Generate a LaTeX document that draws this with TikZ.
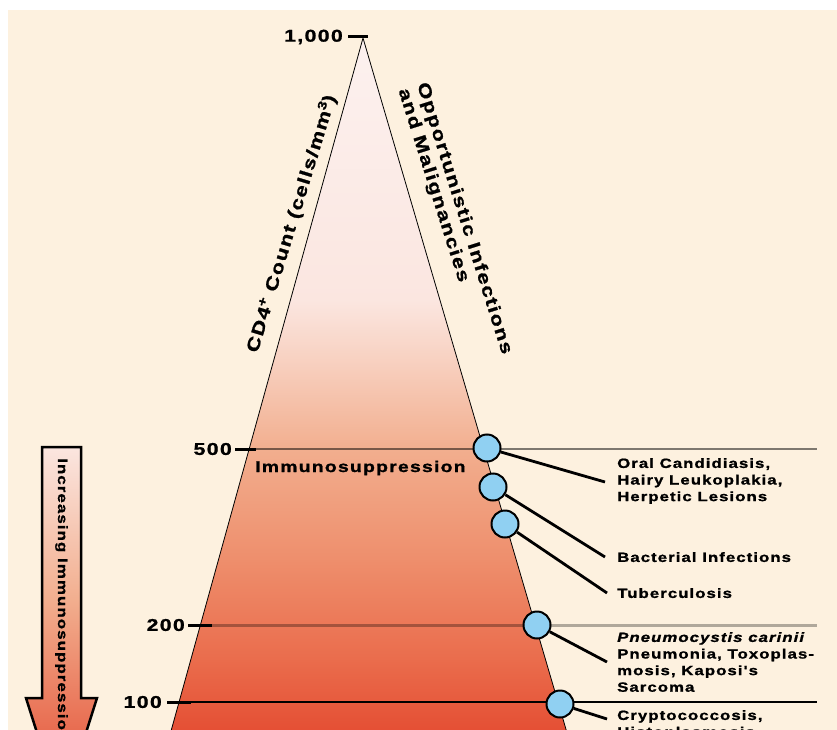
\documentclass[tikz,border=0pt]{standalone}
\usepackage{fontspec}
\newfontfamily\lbl[FakeStretch=1.25,LetterSpace=8,FakeBold=1.2]{Liberation Sans}
\definecolor{cream}{HTML}{FDF1DF}
\definecolor{g0}{HTML}{FCF1EF}
\definecolor{g1}{HTML}{FBE6E0}
\definecolor{g2}{HTML}{F7CDBB}
\definecolor{g3}{HTML}{F2AE8E}
\definecolor{g4}{HTML}{EE8E6C}
\definecolor{g5}{HTML}{EA6C4C}
\definecolor{g6}{HTML}{E2432A}
\definecolor{dotblue}{HTML}{90D0F2}
\tikzset{
  lab/.style={font=\lbl\bfseries\fontsize{13.4}{16.6}\selectfont, inner sep=0pt, align=left, anchor=north west},
  num/.style={font=\lbl\bfseries\fontsize{17}{19}\selectfont, inner sep=0pt, anchor=east},
  axislab/.style={font=\lbl\bfseries\fontsize{17.5}{19.5}\selectfont, inner sep=0pt, align=left},
  tickmark/.style={line width=3pt, black},
  dot/.style={circle, minimum size=27pt, inner sep=0pt, fill=dotblue, draw=black, line width=2pt},
  leader/.style={line width=2.8pt, black},
}
\begin{document}
\begin{tikzpicture}[x=1pt,y=-1pt]
\useasboundingbox (0,0) rectangle (837,730);
\clip (0,0) rectangle (837,730);
\fill[white] (0,0) rectangle (837,730);
\fill[cream] (8,10) rectangle (837,730);

% ---------- triangle ----------
\coordinate (A) at (363,38);
\coordinate (BL) at (163,760);
\coordinate (BR) at (575,760);
\begin{scope}
  \clip (A) -- (BR) -- (BL) -- cycle;
  \shade[top color=g0, bottom color=g1] (150,37) rectangle (600,301);
  \shade[top color=g1, bottom color=g2] (150,300) rectangle (600,371);
  \shade[top color=g2, bottom color=g3] (150,370) rectangle (600,451);
  \shade[top color=g3, bottom color=g4] (150,450) rectangle (600,561);
  \shade[top color=g4, bottom color=g5] (150,560) rectangle (600,661);
  \shade[top color=g5, bottom color=g6] (150,660) rectangle (600,761);
\end{scope}
\draw[line width=0.8pt] (BL) -- (A) -- (BR);

% ---------- level lines ----------
\coordinate (l5a) at (235,449);  \coordinate (l5b) at (817,449);
\coordinate (l2a) at (188,625);  \coordinate (l2b) at (817,625);
\coordinate (l1a) at (167,702);  \coordinate (l1b) at (817,702);
\draw[line width=2pt, black, opacity=0.5] (l5a) -- (l5b);
\draw[line width=3pt, black, opacity=0.3] (l2a) -- (l2b);
\draw[line width=1.6pt, black] (l1a) -- (l1b);

% ---------- ticks and numbers ----------
\coordinate (k0a) at (348,37); \coordinate (k0b) at (368,37);
\coordinate (k5b) at (256,449);
\coordinate (k2b) at (212,625);
\coordinate (k1b) at (191,702);
\draw[tickmark] (k0a) -- (k0b);
\draw[tickmark] (l5a) -- (k5b);
\draw[tickmark] (l2a) -- (k2b);
\draw[tickmark] (l1a) -- (k1b);
\node[num] (n1000) at (343,37) {1,000};
\node[num] (n500) at (232,449) {500};
\node[num] (n200) at (185,625) {200};
\node[num] (n100) at (162,702) {100};

% ---------- axis texts ----------
\node[axislab, rotate=73, anchor=west] (cd4) at (252,352)
  {CD4\textsuperscript{+} Count (cells/mm\textsuperscript{3})};
\node[axislab, rotate=-72.5, anchor=west] (opp) at (412,86)
  {Opportunistic Infections\\and Malignancies};
\node[font=\lbl\bfseries\fontsize{15.5}{17}\selectfont, inner sep=0pt, anchor=west] (imm) at (255,468) {Immunosuppression};

% ---------- arrow ----------
\begin{scope}
  \clip (42,447) -- (81,447) -- (81,698) -- (97,698) -- (61.5,810) -- (26,698) -- (42,698) -- cycle;
  \shade[top color=g1, bottom color=g3] (20,446) rectangle (100,601);
  \shade[top color=g3, bottom color=g6] (20,600) rectangle (100,811);
\end{scope}
\draw[line width=2.5pt, line join=miter] (42,447) -- (81,447) -- (81,698) -- (97,698) -- (61.5,810) -- (26,698) -- (42,698) -- cycle;
\node[font=\lbl\bfseries\fontsize{13.5}{15}\selectfont, inner sep=0pt, rotate=-90, anchor=west] (incr) at (61.5,458) {Increasing Immunosuppression};

% ---------- dots and leaders ----------
\node[dot] (c1) at (487,448) {};
\node[dot] (c2) at (493,487) {};
\node[dot] (c3) at (505,524) {};
\node[dot] (c4) at (537,625) {};
\node[dot] (c5) at (560,704) {};
\coordinate (e1) at (605,482);
\coordinate (e2) at (605,557);
\coordinate (e3) at (607,593);
\coordinate (e4) at (607,662);
\coordinate (e5) at (607,719);
\draw[leader] (c1) -- (e1);
\draw[leader] (c2) -- (e2);
\draw[leader] (c3) -- (e3);
\draw[leader] (c4) -- (e4);
\draw[leader] (c5) -- (e5);

% ---------- labels ----------
\node[lab] (t1) at (617,458) {Oral Candidiasis,\\Hairy Leukoplakia,\\Herpetic Lesions};
\node[lab] (t2) at (617,552) {Bacterial Infections};
\node[lab] (t3) at (617,588) {Tuberculosis};
\node[lab] (t4) at (617,632) {\itshape Pneumocystis carinii\\Pneumonia, Toxoplas-\\mosis, Kaposi's\\Sarcoma};
\node[lab] (t5) at (617,710) {Cryptococcosis,\\Histoplasmosis};
\end{tikzpicture}
\end{document}
